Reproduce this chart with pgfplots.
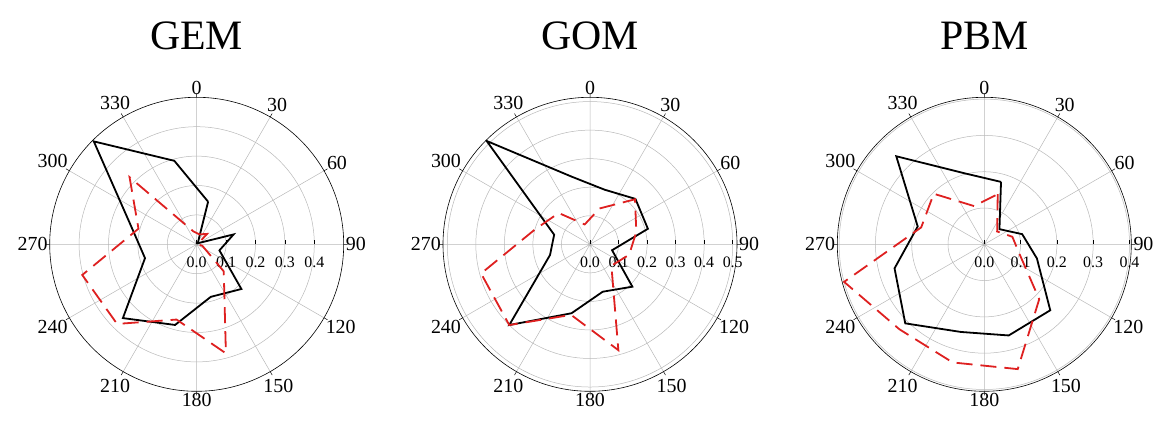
\documentclass[border=0pt]{standalone}
\usepackage{fontspec}
\setmainfont{Liberation Serif}
\usepackage{pgfplots}
\pgfplotsset{compat=1.18}
\usepgfplotslibrary{polar}
\usepackage{pgfplotstable}
\definecolor{dred}{RGB}{222,32,32}

% compass angle (deg, clockwise from north), radius
\pgfplotstableread{
a r
15 0.150
45 0.005
75 0.130
105 0.080
135 0.215
165 0.185
195 0.284
225 0.355
255 0.182
285 0.230
315 0.495
345 0.294
15 0.150
}\gemblack
\pgfplotstableread{
a r
15 0.035
45 0.050
75 0.003
105 0.020
135 0.130
165 0.384
195 0.265
225 0.383
255 0.403
285 0.205
315 0.323
345 0.046
15 0.035
}\gemred
\pgfplotstableread{
a r
15 0.198
45 0.225
75 0.210
105 0.080
135 0.210
165 0.172
195 0.250
225 0.400
255 0.145
285 0.130
315 0.512
345 0.245
15 0.198
}\gomblack
\pgfplotstableread{
a r
15 0.130
45 0.223
75 0.168
105 0.142
135 0.106
165 0.384
195 0.256
225 0.400
255 0.395
285 0.200
315 0.155
345 0.072
15 0.130
}\gomred
\pgfplotstableread{
a r
15 0.178
45 0.059
75 0.108
105 0.150
135 0.257
165 0.260
195 0.250
225 0.308
255 0.256
285 0.190
315 0.343
345 0.202
15 0.178
}\pbmblack
\pgfplotstableread{
a r
15 0.143
45 0.050
75 0.080
105 0.100
135 0.214
165 0.356
195 0.337
225 0.331
255 0.400
285 0.180
315 0.197
345 0.109
15 0.143
}\pbmred

\pgfplotsset{
  rose/.style={
    anchor=center, scale only axis, width=294bp, height=294bp,
    ymin=0,
    xtick={0,30,...,330},
    xticklabels={90,60,30,0,330,300,270,240,210,180,150,120},
    grid=major,
    major grid style={black!28, line width=0.5bp},
    axis line style={black, line width=0.6bp},
    y axis line style={draw=none},
    tick style={black, line width=0.5bp},
    major tick length=4bp,
    xticklabel style={font=\fontsize{20}{20}\selectfont, inner sep=2bp},
    yticklabel style={font=\fontsize{16}{16}\selectfont, anchor=north, yshift=-9bp,
      /pgf/number format/.cd, fixed, fixed zerofill, precision=1},
    /pgf/number format/assume math mode=true,
    title style={font=\fontsize{42}{42}\selectfont, at={(0.5,1)}, anchor=base, yshift=33bp},
  },
  blk/.style={black, line width=1.8bp, line join=miter},
  rd/.style={dred, line width=1.8bp, dash pattern=on 16bp off 8bp},
}

\begin{document}
\begin{tikzpicture}
\useasboundingbox (0,0) rectangle (1169bp,429bp);
\begin{polaraxis}[rose, at={(196.7bp,184.7bp)}, ymax=0.5,
  ytick={0,0.1,0.2,0.3,0.4}, title={GEM}]
  \addplot[blk] table[x expr=90-\thisrow{a}, y=r] {\gemblack};
  \addplot[rd] table[x expr=90-\thisrow{a}, y=r] {\gemred};
\end{polaraxis}
\begin{polaraxis}[rose, at={(590bp,184.7bp)}, ymax=0.515,
  ytick={0,0.1,0.2,0.3,0.4,0.5}, title={GOM}]
  \addplot[blk] table[x expr=90-\thisrow{a}, y=r] {\gomblack};
  \addplot[rd] table[x expr=90-\thisrow{a}, y=r] {\gomred};
\end{polaraxis}
\begin{polaraxis}[rose, at={(984.3bp,184.7bp)}, ymax=0.405,
  ytick={0,0.1,0.2,0.3,0.4}, title={PBM}]
  \addplot[blk] table[x expr=90-\thisrow{a}, y=r] {\pbmblack};
  \addplot[rd] table[x expr=90-\thisrow{a}, y=r] {\pbmred};
\end{polaraxis}
\end{tikzpicture}
\end{document}
